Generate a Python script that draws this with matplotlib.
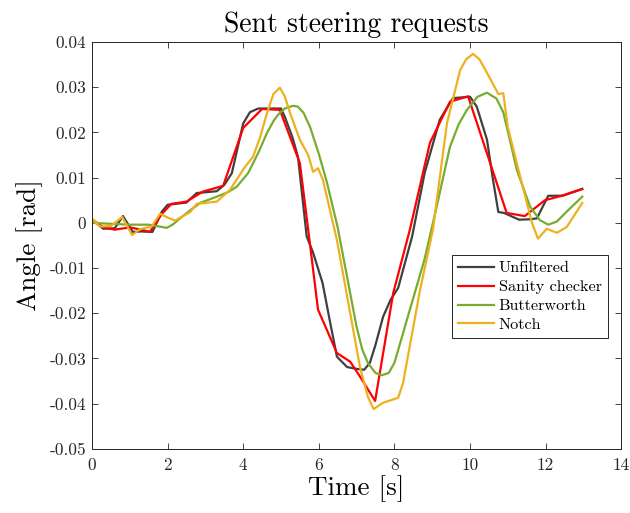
import numpy as np
import matplotlib
matplotlib.use("Agg")
import matplotlib.pyplot as plt

# --- data ---
t_unf = [0.0, 0.3, 0.6, 0.82, 1.08, 1.3, 1.6, 1.85, 2.0, 2.5, 2.77, 3.3, 3.5, 3.7, 4.0, 4.18,
         4.4, 5.0, 5.1, 5.3, 5.45, 5.68, 5.85, 6.1, 6.3, 6.48, 6.75, 7.0, 7.2, 7.35, 7.5, 7.7,
         7.9, 8.1, 8.47, 8.8, 9.2, 9.55, 10.0, 10.18, 10.45, 10.6, 10.75, 10.9, 11.3, 11.6,
         11.77, 12.07, 12.45, 12.97]
y_unf = [0.0007, -0.0013, -0.0012, 0.0015, -0.002, -0.0019, -0.002, 0.0025, 0.004, 0.0045,
         0.0066, 0.007, 0.0084, 0.011, 0.022, 0.0245, 0.0253, 0.0253, 0.0235, 0.019, 0.0146,
         -0.003, -0.0066, -0.0133, -0.022, -0.0296, -0.0319, -0.0323, -0.0325, -0.031, -0.027,
         -0.0208, -0.017, -0.0144, -0.003, 0.011, 0.0228, 0.0276, 0.0279, 0.0257, 0.0184,
         0.010, 0.0024, 0.0022, 0.0007, 0.0008, 0.001, 0.006, 0.006, 0.0075]

t_san = [0.0, 0.3, 0.6, 1.0, 1.3, 1.53, 1.85, 2.1, 2.5, 2.93, 3.47, 4.0, 4.5, 4.97, 5.5,
         5.72, 5.98, 6.48, 6.83, 7.09, 7.49, 7.97, 8.41, 8.94, 9.47, 9.95, 10.97, 11.45,
         11.98, 12.43, 12.97]
y_san = [0.0008, -0.001, -0.0015, -0.001, -0.0015, -0.002, 0.002, 0.0042, 0.0047, 0.0069,
         0.0082, 0.021, 0.0252, 0.025, 0.0132, -0.0015, -0.0192, -0.0288, -0.0307, -0.034,
         -0.0394, -0.0155, -0.0015, 0.0177, 0.0268, 0.028, 0.0022, 0.0015, 0.005, 0.006,
         0.0075]

t_but = [0.0, 0.5, 1.0, 1.5, 1.98, 2.15, 2.33, 2.6, 2.86, 3.3, 3.6, 3.83, 4.13, 4.4, 4.63,
         4.8, 4.92, 5.1, 5.32, 5.45, 5.6, 5.77, 6.0, 6.22, 6.5, 6.75, 7.0, 7.15, 7.3, 7.5,
         7.67, 7.85, 8.0, 8.33, 8.8, 9.13, 9.47, 9.7, 9.92, 10.2, 10.45, 10.7, 10.88, 11.05,
         11.24, 11.59, 11.85, 12.07, 12.3, 12.56, 12.97]
y_but = [0.0, -0.0002, -0.0004, -0.0004, -0.0011, -0.0003, 0.001, 0.0028, 0.0044, 0.0058,
         0.0068, 0.008, 0.011, 0.0155, 0.0199, 0.0225, 0.0239, 0.0253, 0.0259, 0.0257,
         0.0243, 0.0212, 0.0153, 0.0088, -0.001, -0.012, -0.023, -0.028, -0.031, -0.0332,
         -0.0337, -0.0332, -0.031, -0.0215, -0.008, 0.004, 0.0168, 0.0218, 0.025, 0.0279,
         0.0288, 0.0275, 0.0245, 0.0185, 0.0117, 0.0036, 0.0006, -0.0004, 0.0003, 0.0025,
         0.0058]

t_not = [0.0, 0.21, 0.5, 0.8, 1.06, 1.27, 1.58, 1.8, 2.0, 2.2, 2.6, 2.77, 3.3, 3.65, 4.05,
         4.26, 4.45, 4.63, 4.8, 4.97, 5.1, 5.24, 5.5, 5.72, 5.85, 5.98, 6.11, 6.48, 7.09,
         7.3, 7.45, 7.7, 8.1, 8.23, 8.68, 9.02, 9.39, 9.74, 9.9, 10.08, 10.25, 10.45, 10.75,
         10.88, 11.0, 11.33, 11.64, 11.8, 12.03, 12.3, 12.56, 12.97]
y_not = [0.001, -0.0008, -0.0007, 0.0013, -0.0027, -0.0014, -0.0008, 0.002, 0.0012, 0.0005,
         0.0024, 0.0042, 0.0047, 0.0073, 0.0124, 0.0146, 0.019, 0.0243, 0.0285, 0.0299,
         0.028, 0.0243, 0.0184, 0.015, 0.0113, 0.0121, 0.0095, -0.0038, -0.0319, -0.0385,
         -0.0412, -0.0398, -0.0387, -0.0354, -0.0148, -0.0015, 0.022, 0.0338, 0.0362,
         0.0374, 0.0362, 0.0332, 0.0285, 0.0287, 0.0212, 0.0102, 0.0, -0.0035, -0.0013,
         -0.0022, -0.0009, 0.0044]

labels = ["Unfiltered", "Sanity checker", "Butterworth", "Notch"]
colors = ["#404040", "#ff0000", "#77ac30", "#edb120"]

yticks = [0.04, 0.03, 0.02, 0.01, 0, -0.01, -0.02, -0.03, -0.04, -0.05]
ytick_labels = ["0.04", "0.03", "0.02", "0.01", "0", "-0.01", "-0.02", "-0.03", "-0.04", "-0.05"]

plt.rcParams["font.family"] = "serif"
plt.rcParams["font.serif"] = ["cmr10", "DejaVu Serif"]
plt.rcParams["mathtext.fontset"] = "cm"
plt.rcParams["axes.unicode_minus"] = False

fig = plt.figure(figsize=(6.3, 5.13), dpi=100)
ax = fig.add_axes([0.146, 0.125, 0.84, 0.793])

for t, y, lab, c in zip([t_unf, t_san, t_but, t_not], [y_unf, y_san, y_but, y_not], labels, colors):
    ax.plot(t, y, color=c, lw=1.6, label=lab)

ax.set_xlim(0, 14)
ax.set_ylim(-0.05, 0.04)
ax.set_xticks(range(0, 15, 2))
ax.set_xticklabels([str(v) for v in range(0, 15, 2)])
ax.set_yticks(yticks)
ax.set_yticklabels(ytick_labels)
ax.tick_params(direction="in", top=True, right=True, labelsize=12.5, colors="#262626",
               length=4, width=0.6)
ax.tick_params(axis="y", pad=4)
ax.tick_params(axis="x", pad=6)
for s in ax.spines.values():
    s.set_color("#262626")
    s.set_linewidth(0.7)

ax.set_title("Sent steering requests", fontsize=20, pad=7)
ax.set_xlabel("Time [s]", fontsize=19.5, labelpad=2)
ax.set_ylabel("Angle [rad]", fontsize=19.5, labelpad=5)

leg = ax.legend(loc="upper right", bbox_to_anchor=(0.975, 0.477), fontsize=11.7,
                fancybox=False, edgecolor="#262626", framealpha=1, handlelength=2.2,
                borderpad=0.38, labelspacing=0.28, handletextpad=0.3, borderaxespad=0)
leg.get_frame().set_linewidth(0.7)

fig.savefig("out.png", dpi=100)
